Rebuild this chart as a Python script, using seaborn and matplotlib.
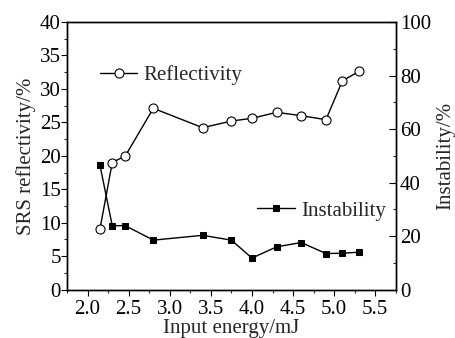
import numpy as np
import pandas as pd
import seaborn as sns
import matplotlib
matplotlib.use('Agg')
import matplotlib.pyplot as plt
from matplotlib.ticker import MultipleLocator

# data
energy = [2.15, 2.30, 2.46, 2.80, 3.40, 3.75, 4.00, 4.30, 4.60, 4.90, 5.10, 5.30]
reflectivity = [9.0, 19.0, 20.0, 27.1, 24.2, 25.2, 25.6, 26.5, 26.0, 25.4, 31.2, 32.6]
instability = [46.6, 23.9, 23.9, 18.5, 20.3, 18.5, 11.8, 16.0, 17.6, 13.5, 13.6, 14.0]

df = pd.DataFrame({'energy': energy, 'refl': reflectivity, 'inst': instability})

sns.set_style('ticks')
plt.rcParams['font.family'] = ['Liberation Serif', 'DejaVu Serif']
fs = 15

fig, ax1 = plt.subplots(figsize=(4.56, 3.38), dpi=100)
fig.subplots_adjust(left=0.147, right=0.868, top=0.935, bottom=0.143)
ax2 = ax1.twinx()

sns.lineplot(data=df, x='energy', y='refl', ax=ax1, color='black', lw=1,
             marker='o', markersize=6.5, markerfacecolor='white',
             markeredgecolor='black', markeredgewidth=0.8, label='Reflectivity')
sns.lineplot(data=df, x='energy', y='inst', ax=ax2, color='black', lw=1,
             marker='s', markersize=4.5, markerfacecolor='black',
             markeredgecolor='black', label='Instability')

ax1.set_xlim(1.75, 5.75)
ax1.set_ylim(0, 40)
ax2.set_ylim(0, 100)

ax1.xaxis.set_major_locator(MultipleLocator(0.5))
ax1.xaxis.set_minor_locator(MultipleLocator(0.25))
ax1.yaxis.set_major_locator(MultipleLocator(5))
ax1.yaxis.set_minor_locator(MultipleLocator(2.5))
ax2.yaxis.set_major_locator(MultipleLocator(20))
ax2.yaxis.set_minor_locator(MultipleLocator(10))
ax1.xaxis.set_major_formatter(plt.FormatStrFormatter('%.1f'))

ax1.tick_params(which='major', direction='out', length=4, width=0.8,
                labelsize=fs, colors='black')
ax1.tick_params(which='minor', direction='out', length=2.5, width=0.8)
ax1.tick_params(axis='x', which='major', pad=3.5)
ax1.tick_params(axis='y', which='major', pad=0.5)
ax2.tick_params(which='major', direction='in', length=5, width=0.8,
                labelsize=fs, pad=3, colors='black')
ax2.tick_params(which='minor', direction='in', length=2.5, width=0.8)
for a in (ax1, ax2):
    for s in a.spines.values():
        s.set_linewidth(1)
        s.set_color('black')

ax1.set_xlabel('Input energy/mJ', fontsize=fs, labelpad=0)
ax1.set_ylabel('SRS reflectivity/%', fontsize=fs, labelpad=3)
ax2.set_ylabel('Instability/%', fontsize=fs, labelpad=4)

ax1.legend(loc='center left', bbox_to_anchor=(0.10, 0.80), frameon=False,
           fontsize=fs, handlelength=1.8, handletextpad=0.3,
           borderaxespad=0, borderpad=0)
ax2.legend(loc='center right', bbox_to_anchor=(0.97, 0.294), frameon=False,
           fontsize=fs, handlelength=1.8, handletextpad=0.3,
           borderaxespad=0, borderpad=0)

fig.savefig('out.png', dpi=100)
